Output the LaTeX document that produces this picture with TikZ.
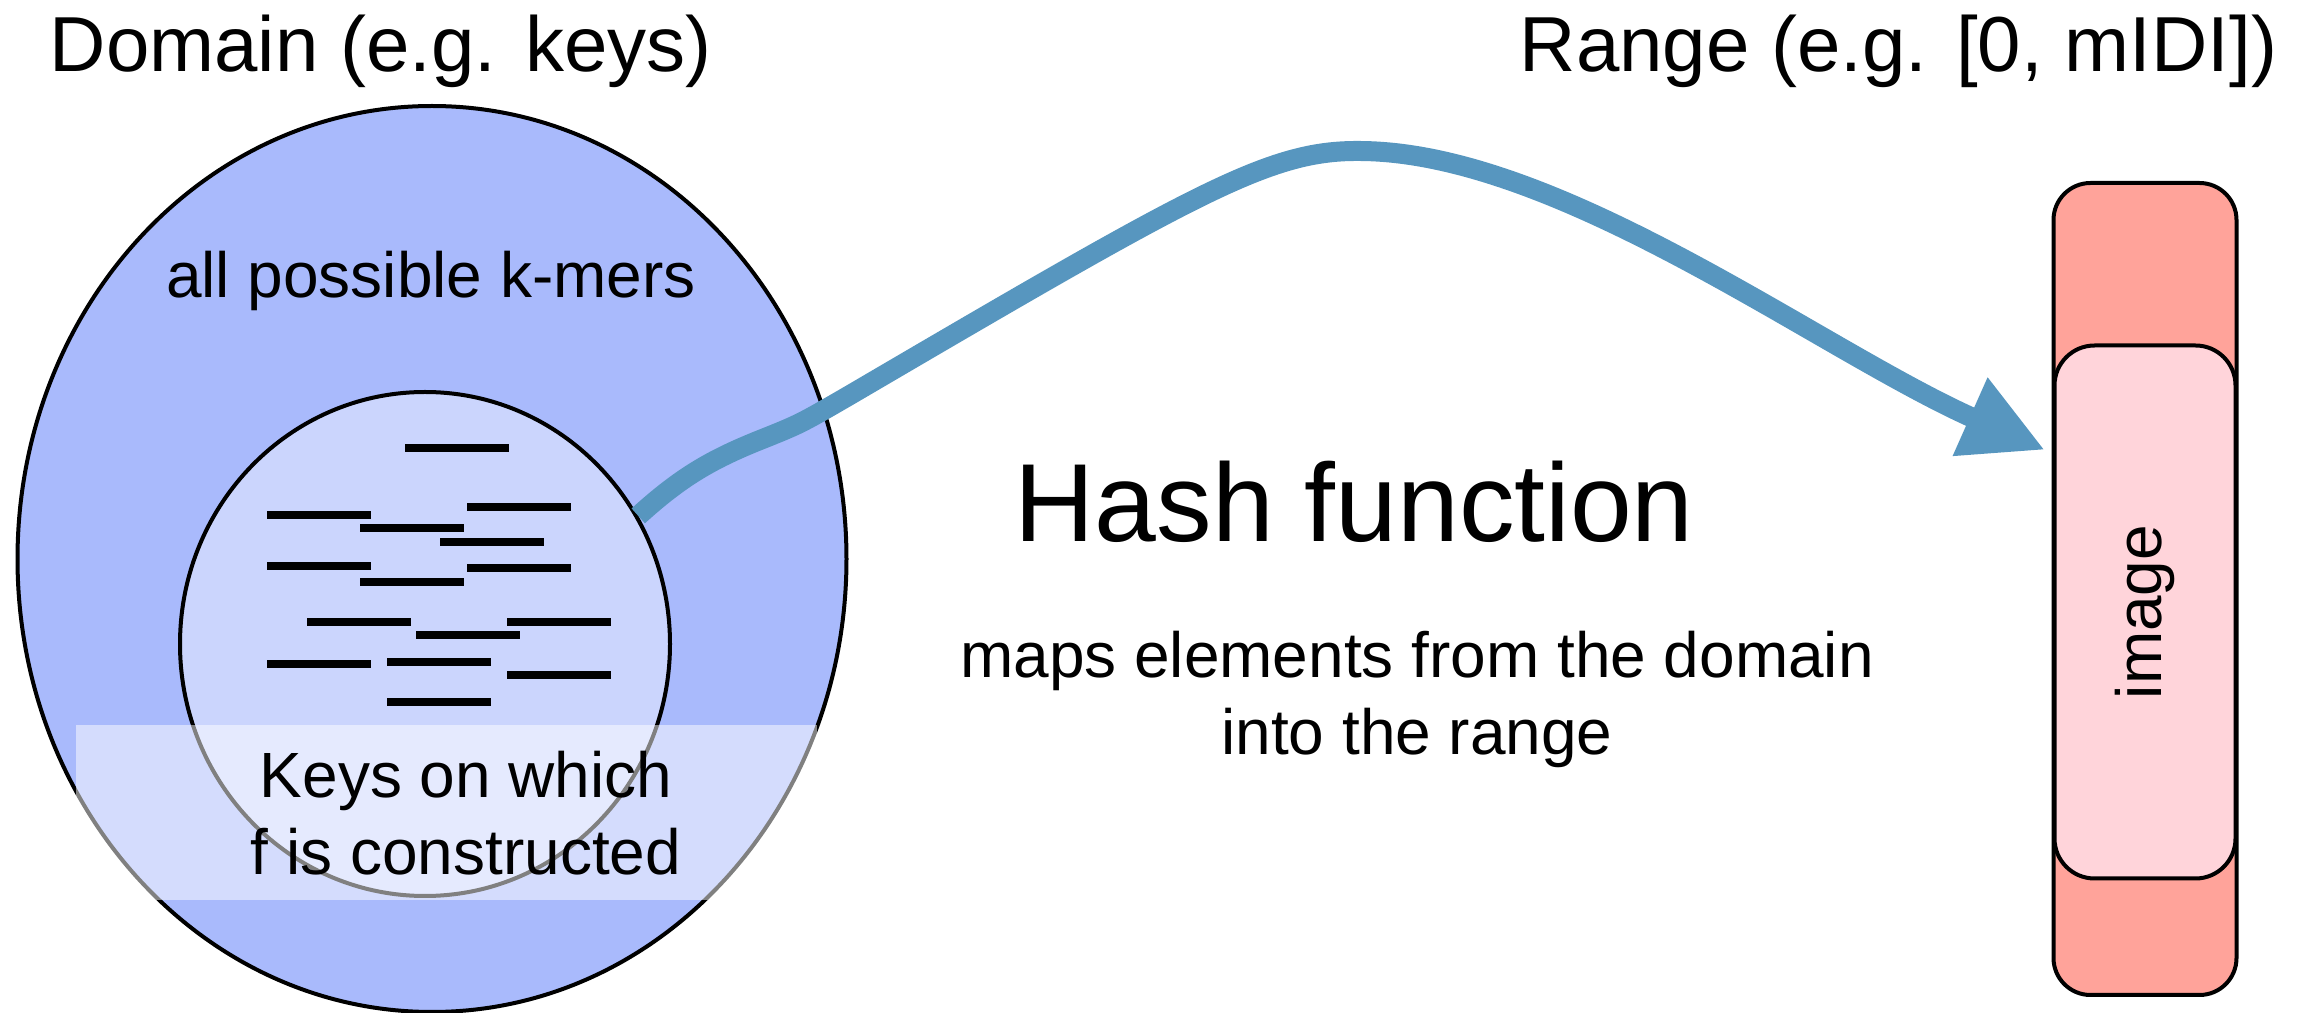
\documentclass[tikz,border=0pt]{standalone}
\usepackage{fontspec}
\setmainfont{Liberation Sans}
\usetikzlibrary{shapes.geometric,arrows.meta}
\definecolor{outerblue}{HTML}{A9BAFC}
\definecolor{innerblue}{HTML}{CBD5FD}
\definecolor{arrowblue}{HTML}{5796BF}
\definecolor{salmonbox}{HTML}{FFA39A}
\definecolor{pinkbox}{HTML}{FFD4DA}
\begin{document}
\begin{tikzpicture}[x=0.1mm,y=-0.1mm,
  outline/.style={draw=black, line width=0.4mm},
  kmer/.style={line width=0.8mm, black},
  bigtext/.style={font=\fontsize{22.2}{26}\selectfont, inner sep=0pt, anchor=base west},
  midtext/.style={font=\fontsize{18.2}{22}\selectfont, inner sep=0pt, anchor=base},
  hashtext/.style={font=\fontsize{31.6}{38}\selectfont, inner sep=0pt, anchor=base west},
  ]
\useasboundingbox (0,0) rectangle (2301,1013);
% domain and key set
\node[ellipse, outline, fill=outerblue, minimum width=82.9mm, minimum height=90.6mm, inner sep=0pt] (domain) at (432,559) {};
\node[ellipse, outline, fill=innerblue, minimum width=49mm, minimum height=50.4mm, inner sep=0pt] (keys) at (425,644) {};
% k-mers
\draw[kmer] (405,448) -- (509,448);
\draw[kmer] (267,515) -- (371,515);
\draw[kmer] (467,507) -- (571,507);
\draw[kmer] (360,528) -- (464,528);
\draw[kmer] (440,542) -- (544,542);
\draw[kmer] (267,566) -- (371,566);
\draw[kmer] (467,568) -- (571,568);
\draw[kmer] (360,582) -- (464,582);
\draw[kmer] (307,622) -- (411,622);
\draw[kmer] (507,622) -- (611,622);
\draw[kmer] (416,635) -- (520,635);
\draw[kmer] (267,664) -- (371,664);
\draw[kmer] (387,662) -- (491,662);
\draw[kmer] (507,675) -- (611,675);
\draw[kmer] (387,702) -- (491,702);
% range boxes
\node[rectangle, rounded corners=3.7mm, outline, fill=salmonbox, minimum width=18.3mm, minimum height=81.2mm, inner sep=0pt] (range) at (2145,589) {};
\node[rectangle, rounded corners=4mm, outline, fill=pinkbox, minimum width=18.1mm, minimum height=53.3mm, inner sep=0pt] (image) at (2145,612) {};
% hash arrow
\coordinate (tip) at (2045,450);
\draw[arrowblue, line width=2mm, -{Triangle[length=8.2mm,width=8mm]}]
  (keys.31) .. controls (680,478) and (710,460) .. (760,440)
  .. controls (800,424) .. (850,395)
  .. controls (1200,190) and (1270,150) .. (1360,151)
  .. controls (1560,152) and (1820,350) .. (tip);
% translucent label band
\fill[white, opacity=0.5] (76,725) rectangle (817,900);
% texts
\node[bigtext] (domlabel) at (49,72) {Domain (e.g. keys)};
\node[bigtext] (rangelabel) at (1519,72) {Range (e.g. [0, mIDI])};
\node[hashtext] (hash) at (1014,542) {Hash function};
\node[midtext] (maps1) at (1417,678) {maps elements from the domain};
\node[midtext] (maps2) at (1417,755) {into the range};
\node[midtext] (allk) at (431,298) {all possible k-mers};
\node[midtext] (keys1) at (466,798) {Keys on which};
\node[midtext] (keys2) at (466,875) {f is constructed};
\node[midtext, anchor=center, rotate=90] (imglabel) at (image.center) {image};
\end{tikzpicture}
\end{document}
